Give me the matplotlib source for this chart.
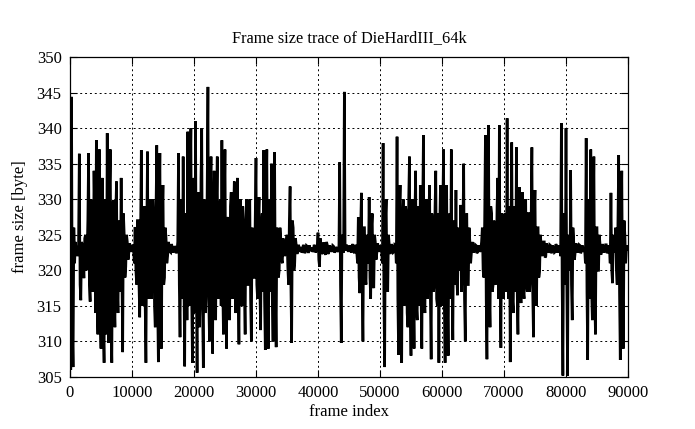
import numpy as np
import matplotlib
matplotlib.use("Agg")
import matplotlib.pyplot as plt

plt.rcParams['font.family'] = ['Liberation Serif', 'DejaVu Serif']

# frame size samples (every 125 frames)
frame_size = [
    338, 306, 344.4, 312, 306.4, 326, 321, 324,
    323, 322.4, 322, 323.5, 336.4, 318, 315.8, 324,
    323.5, 321, 318.9, 324.5, 325, 320, 322, 327,
    336.5, 318, 315.6, 330, 328, 317, 318, 334,
    327, 314, 338.3, 316, 311, 329, 337, 314,
    309, 331, 333, 312, 307, 327, 330, 311,
    339.3, 316, 309.8, 331, 337, 313, 307, 329,
    329.9, 316, 312, 328, 332.5, 318, 314, 327,
    326, 317, 333, 319, 308.5, 328, 325, 319,
    320.5, 325, 324, 321.5, 322.5, 323.8, 323.2, 322.6,
    323, 323.6, 322.8, 321, 326.1, 320, 318, 327,
    327, 318, 313.4, 326, 336.9, 318, 315, 328,
    329, 315, 307, 325, 336.7, 317, 316, 329,
    330, 316, 318, 330, 327, 315, 312, 329,
    337.6, 316, 307.1, 328, 336.5, 315, 309, 327,
    332, 318, 319, 326, 324.5, 321, 322, 324,
    323.5, 322.6, 322.5, 323.7, 323.3, 322.5, 322.8, 323.4,
    323.2, 322.4, 322.7, 324, 336.5, 318, 310.6, 326,
    330, 316, 336, 318, 306.5, 327, 328, 313,
    339.5, 318, 315, 332, 340, 316, 307, 329,
    333, 314, 341, 318, 305.6, 329, 331, 312,
    316, 333, 340, 315, 306.3, 330, 328, 314,
    318, 331, 345.8, 316, 310, 330, 336, 315,
    308.3, 328, 334, 316, 313, 329, 336, 316,
    317, 329, 330, 315, 338.3, 318, 311, 328,
    337, 316, 309, 327, 327.5, 317, 313, 329,
    331, 318, 316, 328, 332.5, 317, 314, 327,
    333, 318, 309.6, 328, 330, 317, 315, 329,
    326, 317, 311, 327, 330, 318, 318, 327,
    330, 316, 310, 326, 325, 319, 319, 328,
    335.8, 318, 316, 327, 330.3, 317, 311.6, 326,
    328, 317, 336.9, 316, 308.8, 329, 337, 315,
    309, 326, 330, 317, 335, 316, 310, 327,
    336.6, 317, 309.2, 326, 325.4, 319, 320, 326,
    324.5, 321.5, 321, 324.5, 323.5, 322, 322.5, 324,
    325, 320.5, 318, 327, 331.8, 318, 309.8, 327,
    326, 320, 321, 324.5, 323.5, 322.3, 322.8, 323.6,
    323, 322.6, 323.3, 322.5, 322.7, 323.6, 323.1, 322.4,
    322.9, 323.5, 323.4, 322.6, 322.6, 323.5, 323, 322.7,
    323.2, 322.6, 322.8, 323.6, 323.3, 322.5, 322.9, 323.4,
    325.3, 321.5, 320.5, 324.5, 323.5, 322.3, 322.5, 323.8,
    323.8, 322.4, 322.2, 324, 323.6, 322.3, 322.6, 323.5,
    323.2, 322.6, 322.9, 323.5, 323.4, 322.5, 322.7, 323.3,
    323, 322.6, 322.8, 323.5, 335.2, 318, 309.8, 325,
    323.5, 322.5, 345.1, 323, 322.8, 323.6, 323.2, 322.6,
    323.1, 323.5, 322.8, 322.5, 323.4, 323.7, 322.7, 322.4,
    323, 323.6, 322.5, 321, 327.5, 319, 316.8, 326,
    330.9, 318, 310, 326, 326, 319, 318, 325,
    323, 321, 330.3, 319, 316, 326, 328, 318,
    317.5, 325, 324, 321.5, 322.5, 323.8, 323.3, 322.6,
    323, 323.5, 322.7, 321, 337.9, 316, 306.4, 327,
    330, 318, 317, 325, 323.5, 322.3, 322.8, 323.7,
    323.2, 322.5, 322.6, 323.6, 323.5, 321, 338.8, 316,
    308.1, 328, 332, 315, 307, 327, 330, 315,
    316, 329, 328, 314, 312, 330, 336, 315,
    308, 327, 330, 316, 309, 328, 334, 315,
    313, 329, 327, 315, 332, 316, 309, 328,
    339, 316, 314, 329, 330, 316, 318, 328,
    332, 316, 307.5, 328, 326, 317, 318, 329,
    334, 316, 315, 328, 307, 326, 332, 315,
    318, 329, 337, 315, 307, 327, 332, 316,
    308, 327, 328, 316, 337, 318, 310.2, 327,
    326, 318, 331.3, 319, 316.5, 326, 325, 320,
    329.2, 317, 319, 327, 335, 316, 310, 327,
    328, 318, 318, 326, 324, 321, 322.5, 324,
    323.3, 322.5, 322.8, 323.6, 323.5, 322.4, 322.6, 323.5,
    323.2, 322.6, 322.9, 324, 326, 320, 319, 327,
    339, 316, 307.5, 328, 340.4, 317, 312, 329,
    328, 317, 318, 327, 326, 318, 320, 329,
    333, 316, 340.4, 318, 309.1, 328, 327, 316,
    319, 328, 326, 317, 341.4, 318, 316, 329,
    307.1, 327, 338, 316, 314, 329, 326, 317,
    337.3, 317, 311, 328, 331.7, 318, 315.4, 328,
    331, 317, 316, 329, 330, 318, 317, 328,
    328, 317, 319, 327, 337.3, 317, 310.6, 327,
    331.3, 318, 315, 326, 326, 319, 320, 325,
    323.5, 322, 322.5, 324, 324, 321.8, 322, 323.8,
    323.3, 322.5, 322.7, 323.6, 323.5, 322.4, 322.8, 323.5,
    323, 322.5, 322.6, 323.7, 323.4, 322.5, 322.9, 323.5,
    323.1, 322, 340.7, 318, 305.2, 326, 328, 318,
    340, 318, 305.2, 325, 323, 320, 334.1, 318,
    313, 326, 324, 321.5, 322.6, 323.8, 323.3, 322.5,
    322.8, 323.6, 323.5, 322.4, 322.7, 323.5, 323.2, 322.6,
    323, 321, 338.6, 317, 307.4, 328, 330, 316,
    337, 317, 313, 327, 336, 316, 311, 326,
    326, 320, 320, 325, 323.5, 322.2, 322.6, 323.7,
    323.3, 322.5, 322.8, 323.6, 323.6, 322.4, 322.7, 323.5,
    323.2, 321, 330.9, 320, 318.2, 325, 323.4, 322.5,
    326, 320, 318, 327, 336.2, 317, 307.4, 326,
    334, 317, 309, 327, 325, 321, 323, 323.5,
    323,
]
frame_index = np.arange(len(frame_size)) * 125

x_ticks = [0, 10000, 20000, 30000, 40000, 50000, 60000, 70000, 80000, 90000]
y_ticks = [305, 310, 315, 320, 325, 330, 335, 340, 345, 350]

fig = plt.figure(figsize=(6.95, 4.29), dpi=100)
ax = fig.add_axes([0.1007, 0.1212, 0.8029, 0.7458])

ax.plot(frame_index, frame_size, color='black', lw=1.9, solid_joinstyle='miter', zorder=3)

ax.set_xlim(0, 90000)
ax.set_ylim(305, 350)
ax.set_xticks(x_ticks)
ax.set_yticks(y_ticks)
ax.tick_params(direction='in', length=5, width=0.8, top=True, right=True,
               labelsize=12, pad=6, colors='black')
ax.grid(True, color='black', linestyle=(0, (2, 3)), linewidth=0.7, zorder=1)
for s in ax.spines.values():
    s.set_linewidth(0.9)
    s.set_zorder(4)

ax.set_title('Frame size trace of DieHardIII_64k', fontsize=11.8, pad=11)
ax.set_xlabel('frame index', fontsize=12, labelpad=2)
ax.set_ylabel('frame size [byte]', fontsize=12, labelpad=6)

fig.savefig('out.png', dpi=100)
